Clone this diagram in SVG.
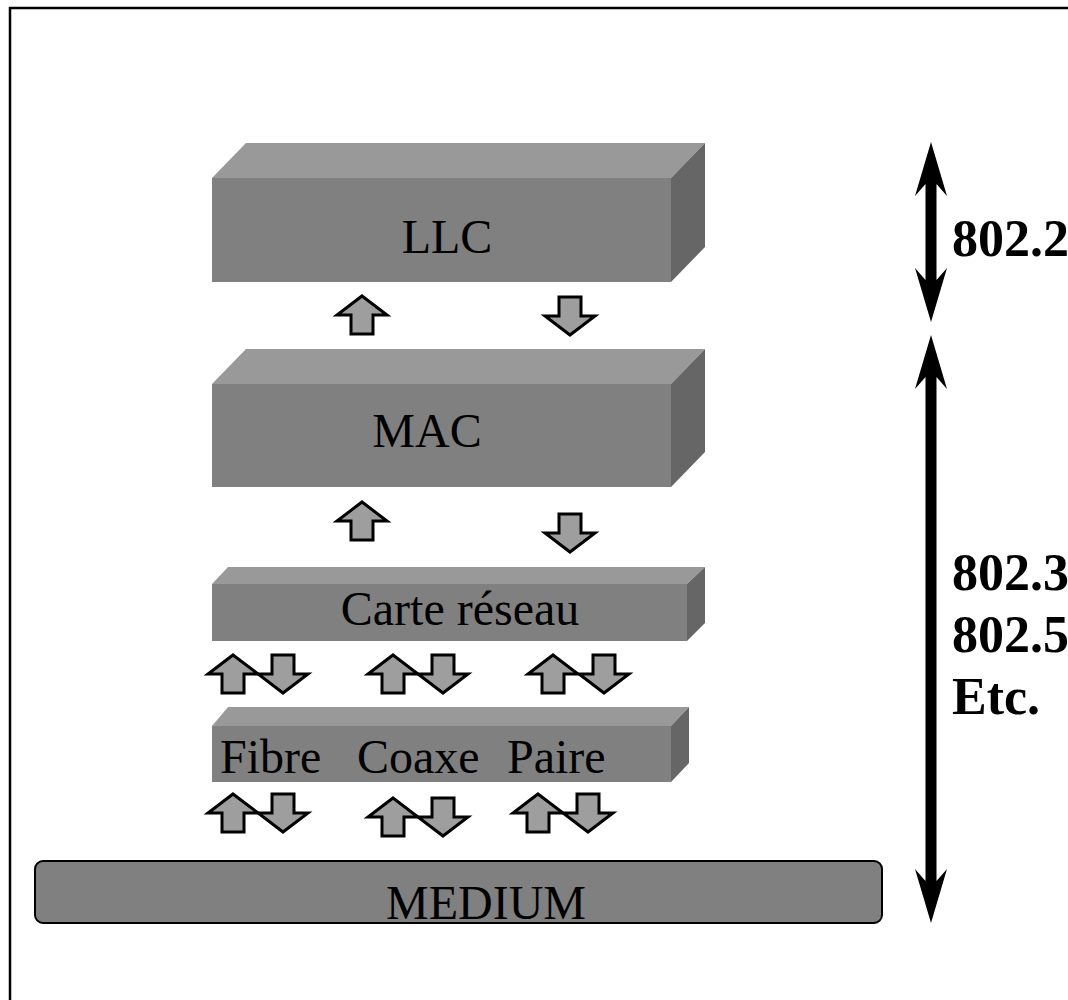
<svg xmlns="http://www.w3.org/2000/svg" xmlns:xlink="http://www.w3.org/1999/xlink" width="1068" height="1000" viewBox="0 0 1068 1000">
  <style>
    .front { fill: #808080; }
    .top { fill: #999999; }
    .side { fill: #666666; }
    .lbl { font-family: "Liberation Serif", "Times New Roman", serif; font-size: 48px; fill: #000; }
    .std { font-family: "Liberation Serif", "Times New Roman", serif; font-size: 52px; font-weight: bold; fill: #000; }
    .small { fill: #9e9e9e; stroke: #000; stroke-width: 3; stroke-linejoin: miter; }
    .big { fill: #000; }
  </style>
  <defs>
    <path id="up" d="M0,0 L25,19 L11,19 L11,38 L-11,38 L-11,19 L-25,19 Z"/>
    <path id="down" d="M0,38 L25,19 L11,19 L11,0 L-11,0 L-11,19 L-25,19 Z"/>
  </defs>
  <rect x="0" y="0" width="1068" height="1000" fill="#fff"/>
  <rect x="10" y="8" width="1100" height="1100" fill="none" stroke="#000" stroke-width="2.5"/>

  <g id="llc">
    <polygon class="top" points="212,178 246,143 705,143 671,178"/>
    <polygon class="side" points="671,178 705,143 705,247 671,282"/>
    <rect class="front" x="212" y="178" width="459" height="104"/>
    <text class="lbl" x="447" y="253" text-anchor="middle">LLC</text>
  </g>

  <g id="mac">
    <polygon class="top" points="212,384 246,349 705,349 671,384"/>
    <polygon class="side" points="671,384 705,349 705,452 671,487"/>
    <rect class="front" x="212" y="384" width="459" height="103"/>
    <text class="lbl" x="427" y="447" text-anchor="middle">MAC</text>
  </g>

  <g id="carte">
    <polygon class="top" points="212,584 228,567 705,567 687,584"/>
    <polygon class="side" points="687,584 705,567 705,623 687,641"/>
    <rect class="front" x="212" y="584" width="475" height="57"/>
    <text class="lbl" x="460" y="625" text-anchor="middle">Carte réseau</text>
  </g>

  <g id="support">
    <polygon class="top" points="212,726 228,707 689,707 671,726"/>
    <polygon class="side" points="671,726 689,707 689,763 671,782"/>
    <rect class="front" x="212" y="726" width="459" height="56"/>
    <text class="lbl" x="220" y="773">Fibre</text>
    <text class="lbl" x="357" y="773">Coaxe</text>
    <text class="lbl" x="507" y="773">Paire</text>
  </g>

  <g id="medium">
    <rect x="35" y="861" width="847" height="62" rx="8" ry="8" fill="#808080" stroke="#000" stroke-width="2"/>
    <text class="lbl" x="486" y="919" text-anchor="middle">MEDIUM</text>
  </g>

  <g id="std-8022">
    <text class="std" x="952" y="256">802.2</text>
  </g>
  <g id="std-others">
    <text class="std" x="952" y="590">802.3</text>
    <text class="std" x="952" y="652">802.5</text>
    <text class="std" x="952" y="714">Etc.</text>
  </g>

  <g id="connectors">
    <path class="big" d="M931,142 L947,196 L936.5,184 L936.5,280 L947,268 L931,322 L915,268 L925.5,280 L925.5,184 L915,196 Z"/>
    <path class="big" d="M931,335 L947,389 L936.5,377 L936.5,881 L947,869 L931,923 L915,869 L925.5,881 L925.5,377 L915,389 Z"/>

    <use xlink:href="#up" class="small" x="362" y="296"/>
    <use xlink:href="#down" class="small" x="570" y="297"/>

    <use xlink:href="#up" class="small" x="362" y="502"/>
    <use xlink:href="#down" class="small" x="570" y="514"/>

    <use xlink:href="#up" class="small" x="233" y="655"/>
    <use xlink:href="#down" class="small" x="283" y="655"/>
    <use xlink:href="#up" class="small" x="393" y="655"/>
    <use xlink:href="#down" class="small" x="443" y="655"/>
    <use xlink:href="#up" class="small" x="553" y="655"/>
    <use xlink:href="#down" class="small" x="604" y="655"/>

    <use xlink:href="#up" class="small" x="233" y="794"/>
    <use xlink:href="#down" class="small" x="283" y="794"/>
    <use xlink:href="#up" class="small" x="393" y="798"/>
    <use xlink:href="#down" class="small" x="443" y="798"/>
    <use xlink:href="#up" class="small" x="538" y="794"/>
    <use xlink:href="#down" class="small" x="588" y="794"/>
  </g>
</svg>
